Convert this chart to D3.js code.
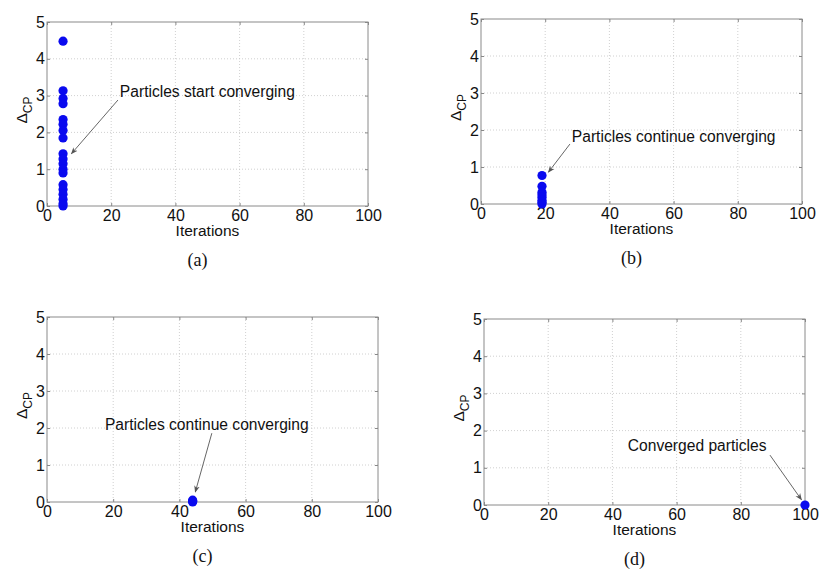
<!DOCTYPE html>
<html>
<head>
<meta charset="utf-8">
<script src="https://cdn.jsdelivr.net/npm/d3@7"></script>
<style>
  body { margin: 0; background: #fff; }
  svg text { font-family: "Liberation Sans", Arial, sans-serif; fill: #111; }
</style>
</head>
<body>
<svg id="fig" width="830" height="571"></svg>
<script>
// values
var xTicks = [0, 20, 40, 60, 80, 100];
var yTicks = [0, 1, 2, 3, 4, 5];
var captions = ["(a)", "(b)", "(c)", "(d)"];
var notes = ["Particles start converging", "Particles continue converging",
             "Particles continue converging", "Converged particles"];

// iteration at which each snapshot was taken
var snapIteration = [5, 19, 44, 100];

// Delta_CP of every particle in each snapshot
var deltaA = [4.48, 3.13, 2.92, 2.78, 2.35, 2.22, 2.05, 1.85, 1.42, 1.28, 1.15,
              1.0, 0.9, 0.58, 0.45, 0.32, 0.18, 0.06, 0.0];
var deltaB = [0.77, 0.48, 0.32, 0.25, 0.18, 0.1, 0.05, 0.0];
var deltaC = [0.05, 0.02, 0.0];
var deltaD = [0.0];

var deltas = [deltaA, deltaB, deltaC, deltaD];

// plot boxes (pixels) and note/arrow placement (data units)
var layout = [
  { x0: 47,  x1: 368, y0: 22,  y1: 206, text: [22.7, 2.96], tail: [22.1, 2.88], head: [7.6, 1.42] },
  { x0: 481, x1: 802, y0: 19,  y1: 204, text: [28.3, 1.68], tail: [27.7, 1.62], head: [21.0, 0.86] },
  { x0: 47,  x1: 378, y0: 317, y1: 502, text: [17.5, 1.95], tail: [49.8, 1.86], head: [44.8, 0.27] },
  { x0: 484, x1: 805, y0: 319, y1: 505, text: [44.8, 1.45], tail: [89.1, 1.34], head: [98.9, 0.14] }
];

var svg = d3.select("#fig");

svg.append("defs").append("marker")
   .attr("id", "head")
   .attr("viewBox", "0 0 10 10")
   .attr("refX", 9)
   .attr("refY", 5)
   .attr("markerWidth", 7)
   .attr("markerHeight", 7)
   .attr("markerUnits", "userSpaceOnUse")
   .attr("orient", "auto")
   .append("path")
   .attr("d", "M0,1 L10,5 L0,9 L3,5 Z")
   .attr("fill", "#555");

layout.forEach(function (box, idx) {
  var x = d3.scaleLinear().domain([0, 100]).range([box.x0, box.x1]);
  var y = d3.scaleLinear().domain([0, 5]).range([box.y1, box.y0]);
  var g = svg.append("g");

  // dotted grid
  g.selectAll(".gx").data(xTicks.slice(1, -1)).enter().append("line")
   .attr("x1", x).attr("x2", x)
   .attr("y1", box.y0).attr("y2", box.y1)
   .attr("stroke", "#c4c4c4").attr("stroke-width", 0.8)
   .attr("stroke-dasharray", "1,2");

  g.selectAll(".gy").data(yTicks.slice(1, -1)).enter().append("line")
   .attr("y1", y).attr("y2", y)
   .attr("x1", box.x0).attr("x2", box.x1)
   .attr("stroke", "#c4c4c4").attr("stroke-width", 0.8)
   .attr("stroke-dasharray", "1,2");

  // axes with inward ticks
  var xAxis = d3.axisBottom(x).tickValues(xTicks).tickFormat(d3.format("d")).tickSize(-3);
  var yAxis = d3.axisLeft(y).tickValues(yTicks).tickFormat(d3.format("d")).tickSize(-3);

  var gx = g.append("g").attr("transform", "translate(0," + box.y1 + ")").call(xAxis);
  var gy = g.append("g").attr("transform", "translate(" + box.x0 + ",0)").call(yAxis);
  [gx, gy].forEach(function (a) {
    a.select(".domain").remove();
    a.selectAll("line").attr("stroke", "#888");
    a.selectAll("text")
     .style("font-family", "'Liberation Sans', Arial, sans-serif")
     .style("font-size", "16px").attr("fill", "#111");
  });
  gx.selectAll("text").attr("dy", "0.72em").attr("y", 3);
  gy.selectAll("text").attr("x", -2);

  // mirrored ticks on top and right
  g.append("g").attr("transform", "translate(0," + box.y0 + ")")
   .call(d3.axisTop(x).tickValues(xTicks).tickSize(-3).tickFormat(""))
   .call(function (a) { a.select(".domain").remove(); a.selectAll("line").attr("stroke", "#888"); });
  g.append("g").attr("transform", "translate(" + box.x1 + ",0)")
   .call(d3.axisRight(y).tickValues(yTicks).tickSize(-3).tickFormat(""))
   .call(function (a) { a.select(".domain").remove(); a.selectAll("line").attr("stroke", "#888"); });

  // frame
  g.append("rect")
   .attr("x", box.x0).attr("y", box.y0)
   .attr("width", box.x1 - box.x0).attr("height", box.y1 - box.y0)
   .attr("fill", "none").attr("stroke", "#8a8a8a").attr("stroke-width", 1);

  // particles
  g.selectAll(".dot").data(deltas[idx]).enter().append("circle")
   .attr("cx", x(snapIteration[idx]))
   .attr("cy", function (d) { return y(d); })
   .attr("r", 4.6)
   .attr("fill", "#0a0aef");

  // axis labels
  g.append("text")
   .attr("x", (box.x0 + box.x1) / 2)
   .attr("y", box.y1 + 30)
   .attr("text-anchor", "middle")
   .style("font-size", "15.5px")
   .text("Iterations");

  var ylab = g.append("text")
   .attr("transform", "translate(" + (box.x0 - 20) + "," + ((box.y0 + box.y1) / 2 - 4) + ") rotate(-90)")
   .attr("text-anchor", "middle")
   .style("font-size", "15.5px");
  ylab.append("tspan").text("\u0394");
  ylab.append("tspan").attr("dy", 5).style("font-size", "12px").text("CP");

  // note with arrow
  g.append("text")
   .attr("x", x(box.text[0]))
   .attr("y", y(box.text[1]))
   .style("font-size", "15.6px")
   .text(notes[idx]);

  g.append("line")
   .attr("x1", x(box.tail[0])).attr("y1", y(box.tail[1]))
   .attr("x2", x(box.head[0])).attr("y2", y(box.head[1]))
   .attr("stroke", "#555").attr("stroke-width", 0.9)
   .attr("marker-end", "url(#head)");

  // sub-figure caption
  g.append("text")
   .attr("x", (box.x0 + box.x1) / 2 - 10)
   .attr("y", box.y1 + 60)
   .attr("text-anchor", "middle")
   .style("font-family", "'Liberation Serif', 'Times New Roman', serif")
   .style("font-size", "18px")
   .text(captions[idx]);
});
</script>
</body>
</html>
